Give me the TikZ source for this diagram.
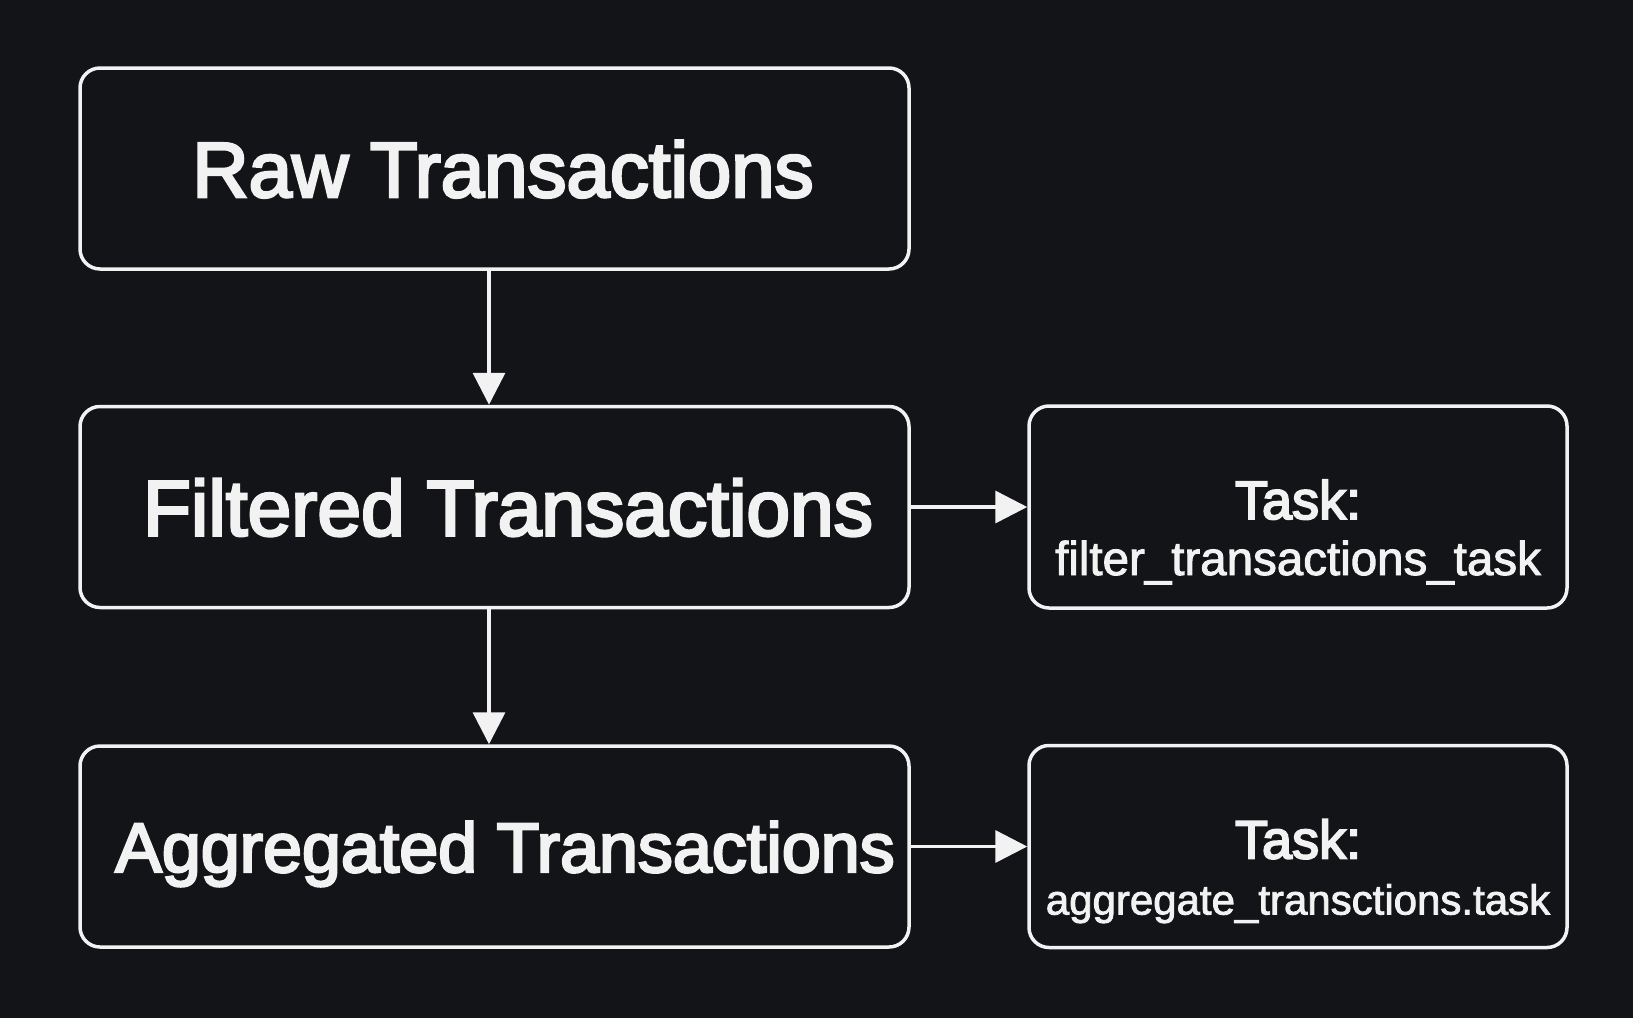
\documentclass[tikz,border=0pt]{standalone}
\usepackage{fontspec}
\setmainfont{Liberation Sans}
\newfontfamily\medfont[FakeBold=3.5]{Liberation Sans}
\newfontfamily\smfont[FakeBold=2]{Liberation Sans}
\usetikzlibrary{arrows.meta}
\definecolor{bgc}{RGB}{19,20,24}
\definecolor{fgc}{RGB}{242,242,242}
\tikzset{
  box/.style={draw=fgc, line width=3.5pt, rounded corners=20pt, rectangle, inner sep=0pt, text=fgc, align=center},
  bigbox/.style={box, minimum width=829pt, minimum height=201pt, text depth=0pt},
  taskbox/.style={box, minimum width=538pt, minimum height=202pt, font=\fontsize{46}{56}\selectfont},
  conn/.style={draw=fgc, line width=3.5pt, -{Triangle[length=32pt,width=32pt]}}
}
\begin{document}
\begin{tikzpicture}[x=1pt,y=-1pt]
\fill[bgc] (0,0) rectangle (1633,1018);
\useasboundingbox (0,0) rectangle (1633,1018);
\node[bigbox, text height=57pt, font=\medfont\fontsize{78}{80}\selectfont] (raw) at (494.5,168.5) {\hspace*{17pt}Raw Transactions};
\node[bigbox, text height=57pt, font=\medfont\fontsize{78.5}{80}\selectfont] (filt) at (494.5,507) {\hspace*{27pt}Filtered Transactions};
\node[bigbox, text height=51pt, font=\medfont\fontsize{70}{80}\selectfont] (agg) at (494.5,846.5) {\hspace*{21pt}Aggregated Transactions};
\node[taskbox] (t1) at (1298,507) {{\medfont\fontsize{54}{56}\selectfont\rule{0pt}{90pt}Task:}\\{\smfont\fontsize{47.5}{56}\selectfont filter\_transactions\_task\rule[-10pt]{0pt}{0pt}}};
\node[taskbox] (t2) at (1298,846.5) {{\medfont\fontsize{54}{56}\selectfont\rule{0pt}{90pt}Task:}\\{\smfont\fontsize{42}{56}\selectfont aggregate\_transctions.task\rule[-10pt]{0pt}{0pt}}};
\draw[conn] ([xshift=-5.5pt]raw.south) -- ([xshift=-5.5pt]filt.north);
\draw[conn] ([xshift=-5.5pt]filt.south) -- ([xshift=-5.5pt]agg.north);
\draw[conn] (filt.east) -- (t1.west);
\draw[conn] (agg.east) -- (t2.west);
\end{tikzpicture}
\end{document}
